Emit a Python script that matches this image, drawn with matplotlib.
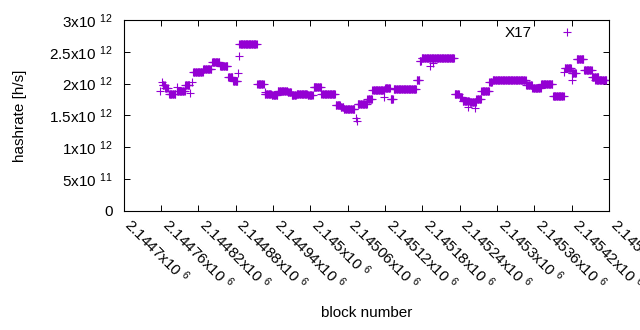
import numpy as np
import matplotlib
matplotlib.use('Agg')
import matplotlib.pyplot as plt
from matplotlib.transforms import ScaledTranslation

# plateaus of the estimated hashrate (first block, last block, rate in 1e12 h/s)
seg_start = [2144763, 2144767, 2144773, 2144786, 2144799, 2144812, 2144828, 2144842,
             2144855, 2144868, 2144876, 2144886, 2144915, 2144927, 2144938, 2144948,
             2144964, 2144970, 2144978, 2144996, 2145006, 2145018, 2145041, 2145049,
             2145054, 2145076, 2145092, 2145100, 2145120, 2145129, 2145134, 2145171,
             2145176, 2145179, 2145232, 2145240, 2145245, 2145256, 2145267, 2145275,
             2145288, 2145293, 2145347, 2145357, 2145371, 2145390, 2145409, 2145420,
             2145428, 2145440, 2145454, 2145458]
seg_end = [2144766, 2144771, 2144783, 2144798, 2144806, 2144827, 2144841, 2144854,
           2144867, 2144875, 2144883, 2144914, 2144925, 2144937, 2144947, 2144963,
           2144969, 2144977, 2144995, 2145004, 2145017, 2145040, 2145048, 2145053,
           2145071, 2145091, 2145099, 2145119, 2145128, 2145133, 2145170, 2145175,
           2145178, 2145231, 2145239, 2145244, 2145255, 2145266, 2145274, 2145287,
           2145292, 2145346, 2145356, 2145370, 2145389, 2145407, 2145419, 2145427,
           2145439, 2145452, 2145463, 2145476]
seg_rate = [1.98, 1.93, 1.843, 1.882, 1.976, 2.181, 2.236, 2.338,
            2.275, 2.102, 2.047, 2.621, 1.992, 1.835, 1.815, 1.89,
            1.866, 1.82, 1.843, 1.82, 1.953, 1.83, 1.67, 1.638,
            1.607, 1.686, 1.756, 1.906, 1.937, 1.764, 1.921, 2.055,
            2.354, 2.409, 1.843, 1.796, 1.725, 1.717, 1.764, 1.89,
            2.031, 2.055, 1.984, 1.937, 2.0, 1.803, 2.25, 2.165,
            2.393, 2.214, 2.11, 2.063]

# isolated outliers
single_block = [2144759, 2144762, 2144786, 2144807, 2144810, 2144884, 2144885, 2144927,
                2145006, 2145073, 2145075, 2145118, 2145192, 2145197, 2145253, 2145264,
                2145408, 2145421, 2145453]
single_rate = [1.887, 2.024, 1.945, 1.851, 2.024, 2.165, 2.432, 1.866,
               1.945, 1.458, 1.41, 1.788, 2.275, 2.322, 1.63, 1.614,
               2.181, 2.055, 2.102]

x_ticks = [2144700, 2144760, 2144820, 2144880, 2144940, 2145000, 2145060,
           2145120, 2145180, 2145240, 2145300, 2145360, 2145420, 2145480]
x_labels = ['2.1447x10 $^{6}$', '2.14476x10 $^{6}$', '2.14482x10 $^{6}$', '2.14488x10 $^{6}$',
            '2.14494x10 $^{6}$', '2.145x10 $^{6}$', '2.14506x10 $^{6}$', '2.14512x10 $^{6}$',
            '2.14518x10 $^{6}$', '2.14524x10 $^{6}$', '2.1453x10 $^{6}$', '2.14536x10 $^{6}$',
            '2.14542x10 $^{6}$', '2.14548x10 $^{6}$']
y_ticks = [0, 0.5e12, 1e12, 1.5e12, 2e12, 2.5e12, 3e12]
y_labels = ['0', '5x10 $^{11}$', '1x10 $^{12}$', '1.5x10 $^{12}$', '2x10 $^{12}$',
            '2.5x10 $^{12}$', '3x10 $^{12}$']


def main():
    plt.rcParams['font.family'] = ['Liberation Sans', 'DejaVu Sans']
    plt.rcParams['mathtext.fontset'] = 'custom'
    plt.rcParams['mathtext.rm'] = 'Liberation Sans'
    plt.rcParams['mathtext.it'] = 'Liberation Sans:italic'
    plt.rcParams['font.size'] = 11

    blocks = []
    rates = []
    for s, e, r in zip(seg_start, seg_end, seg_rate):
        b = np.arange(s, e + 1)
        blocks.append(b)
        rates.append(np.full(len(b), r * 1e12))
    blocks.append(np.array(single_block))
    rates.append(np.array(single_rate) * 1e12)
    x = np.concatenate(blocks)
    y = np.concatenate(rates)

    fig = plt.figure(figsize=(6.4, 3.3), dpi=100)
    ax = fig.add_axes([0.193, 0.3615, 0.7585, 0.5775])

    ax.plot(x, y, linestyle='none', marker='+', markersize=6, markeredgewidth=0.8,
            color='#9400d3', label='X17')

    ax.set_xlim(2144700, 2145480)
    ax.set_ylim(0, 3e12)
    ax.set_xticks(x_ticks)
    ax.set_xticklabels(x_labels, rotation=-45, ha='left', va='top', rotation_mode='anchor')
    ax.set_yticks(y_ticks)
    ax.set_yticklabels(y_labels)

    ax.tick_params(direction='in', length=4, width=0.7, top=True, right=True, colors='black')
    ax.tick_params(axis='x', pad=6)
    ax.tick_params(axis='y', pad=8)
    for sp in ax.spines.values():
        sp.set_linewidth(0.8)

    # nudge the slanted labels so they start right at the tick, like gnuplot
    shift = ScaledTranslation(0.11, 0.04, fig.dpi_scale_trans)
    for lab in ax.get_xticklabels():
        lab.set_transform(lab.get_transform() + shift)

    ax.set_xlabel('block number')
    ax.set_ylabel('hashrate [h/s]')
    ax.xaxis.set_label_coords(0.5, -0.50)
    ax.yaxis.set_label_coords(-0.199, 0.5)

    ax.legend(loc='upper right', bbox_to_anchor=(0.945, 0.97), frameon=False,
              markerfirst=False, handlelength=2, handletextpad=1.3,
              borderpad=0, borderaxespad=0)

    fig.savefig('out.png', dpi=100)


if __name__ == '__main__':
    main()
